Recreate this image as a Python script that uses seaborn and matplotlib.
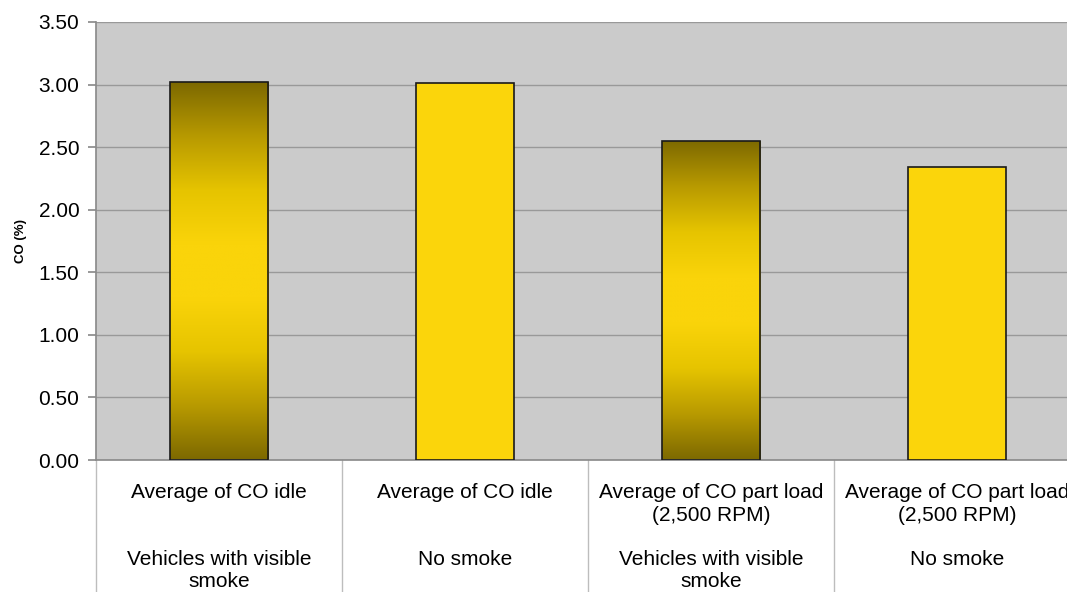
import numpy as np
import pandas as pd
import seaborn as sns
import matplotlib.pyplot as plt
from matplotlib.colors import LinearSegmentedColormap
import matplotlib.transforms as mtransforms

# data
measures = ["Average of CO idle", "Average of CO idle",
            "Average of CO part load\n(2,500 RPM)", "Average of CO part load\n(2,500 RPM)"]
groups = ["Vehicles with visible\nsmoke", "No smoke",
          "Vehicles with visible\nsmoke", "No smoke"]
co_values = [3.02, 3.01, 2.55, 2.34]

df = pd.DataFrame({"pos": ["0", "1", "2", "3"], "measure": measures,
                   "group": groups, "co": co_values})

sns.set_theme(style="white")
plt.rcParams["font.family"] = ["Liberation Sans", "DejaVu Sans"]

fig = plt.figure(figsize=(10.67, 5.92), dpi=100)
ax = fig.add_axes([96 / 1067, 132 / 592, 984 / 1067, 438 / 592])
ax.set_facecolor("#cbcbcb")

yellow = "#fbd50b"
sns.barplot(data=df, x="pos", y="co", hue="pos", palette=[yellow] * 4,
            saturation=1, legend=False, width=0.4, edgecolor="#1a1a1a",
            linewidth=1.2, ax=ax, zorder=3)

# gradient fill for the "visible smoke" bars
grad_cmap = LinearSegmentedColormap.from_list(
    "olive", ["#7d6900", "#b89a00", "#e6c400", "#fad40a", "#fad40a",
              "#e6c400", "#b89a00", "#7d6900"])
grad = np.linspace(0, 1, 512).reshape(-1, 1)
for i, bar in enumerate(ax.patches):
    if groups[i].startswith("Vehicles"):
        x0, y0 = bar.get_x(), bar.get_y()
        w, h = bar.get_width(), bar.get_height()
        bar.set_facecolor("none")
        im = ax.imshow(grad, cmap=grad_cmap, aspect="auto", interpolation="bilinear",
                       extent=[x0, x0 + w, y0, y0 + h], origin="lower", zorder=2.5)
        im.set_clip_path(bar)

ax.set_xlim(-0.5, 3.5)
ax.set_ylim(0, 3.5)
ax.set_yticks(np.arange(0, 3.51, 0.5))
ax.set_yticklabels([f"{v:.2f}" for v in np.arange(0, 3.51, 0.5)], fontsize=15,
                   color="black")
ax.yaxis.grid(True, color="#999999", linewidth=1)
ax.set_axisbelow(True)
ax.tick_params(axis="y", length=6, color="#8c8c8c", left=True, pad=6)
ax.set_xticks([])
ax.set_xlabel("")
ax.set_ylabel("CO (%)", fontsize=9.5, fontweight="bold", color="black", labelpad=8)

for s in ["top", "right"]:
    ax.spines[s].set_visible(False)
ax.spines["left"].set_color("#8c8c8c")
ax.spines["bottom"].set_color("#8c8c8c")

# two-level category labels with separators
trans = mtransforms.blended_transform_factory(ax.transData, ax.transAxes)
for i in range(4):
    ax.plot([i - 0.5, i - 0.5], [0, -0.31], transform=trans, color="#bdbdbd",
            linewidth=1, clip_on=False)
    ax.text(i, -0.0525, measures[i], transform=trans, ha="center", va="top",
            fontsize=15, linespacing=1.3, color="black")
    ax.text(i, -0.205, groups[i], transform=trans, ha="center", va="top",
            fontsize=15, linespacing=1.2, color="black")

fig.savefig("out.png", dpi=100)
